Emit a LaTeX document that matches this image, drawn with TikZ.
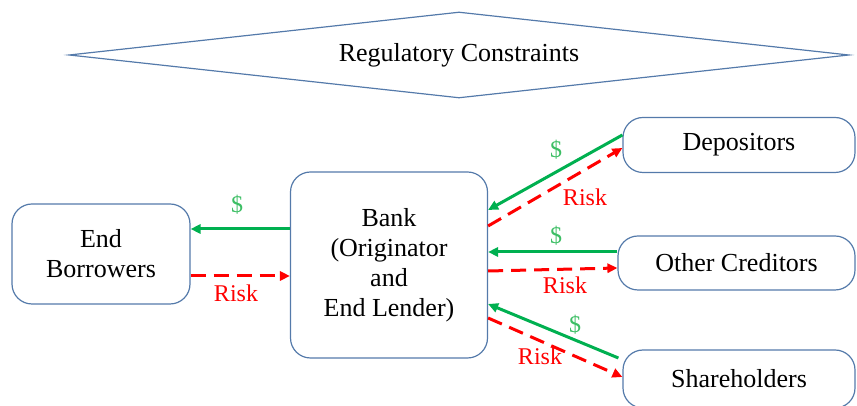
\documentclass[tikz,border=0pt]{standalone}
\usepackage{fontspec}
\setmainfont{Liberation Serif}
\usetikzlibrary{shapes.geometric,arrows.meta}
\definecolor{boxblue}{RGB}{84,122,170}
\definecolor{cashgreen}{RGB}{0,176,80}
\definecolor{cashtext}{RGB}{60,190,100}
\tikzset{
  party/.style={draw=boxblue, line width=0.6pt, rounded corners=10pt, align=center, inner sep=0pt, font=\fontsize{13}{15}\selectfont},
  cash/.style={cashgreen, line width=1.5pt, -{Triangle[length=5pt,width=4.6pt]}},
  risk/.style={red, line width=1.5pt, dash pattern=on 7.5pt off 4pt, -{Triangle[length=5pt,width=4.6pt]}},
  cashlbl/.style={text=cashtext, font=\fontsize{12}{14}\selectfont},
  risklbl/.style={text=red, font=\fontsize{12}{14}\selectfont}
}
\begin{document}
\begin{tikzpicture}[x=0.5pt,y=0.5pt]
\useasboundingbox (0,0) rectangle (857,406);
\node[diamond, aspect=9, draw=boxblue, line width=0.6pt, inner sep=0pt, minimum width=390pt, minimum height=43pt, font=\fontsize{13}{15}\selectfont] (reg) at (459,351){Regulatory Constraints};
\node[party, minimum width=89pt, minimum height=50pt] (borr) at (101,152){End\\Borrowers};
\node[party, minimum width=98.5pt, minimum height=93pt] (bank) at (389,141){Bank\\(Originator\\and\\End Lender)};
\node[party, minimum width=116pt, minimum height=27.5pt] (dep) at (739,261){Depositors};
\node[party, minimum width=118.5pt, minimum height=27pt] (cred) at (736.5,143){Other Creditors};
\node[party, minimum width=116pt, minimum height=29pt] (share) at (739,27){Shareholders};
\draw[cash]([yshift=18pt]bank.west) -- ([yshift=12.5pt]borr.east);
\draw[risk]([yshift=-11pt]borr.east) -- ([yshift=-5.5pt]bank.west);
\draw[cash]([yshift=5pt]dep.west) -- ([yshift=27.5pt]bank.east);
\draw[risk]([yshift=19.5pt]bank.east) -- ([yshift=-1.5pt]dep.west);
\draw[cash]([yshift=5.5pt]cred.west) -- ([yshift=6.5pt]bank.east);
\draw[risk]([yshift=-3pt]bank.east) -- ([yshift=-2.5pt]cred.west);
\draw[cash]([xshift=-2pt,yshift=10.5pt]share.west) -- ([yshift=-19.5pt]bank.east);
\draw[risk]([yshift=-26.5pt]bank.east) -- ([yshift=1pt]share.west);
\node[cashlbl] (c1) at (237,201){\$};
\node[risklbl] (r1) at (236,113){Risk};
\node[cashlbl] (c2) at (556,256){\$};
\node[risklbl] (r2) at (585,209){Risk};
\node[cashlbl] (c3) at (556,170){\$};
\node[risklbl] (r3) at (565,121){Risk};
\node[cashlbl] (c4) at (575,81){\$};
\node[risklbl] (r4) at (540,50){Risk};
\end{tikzpicture}
\end{document}
